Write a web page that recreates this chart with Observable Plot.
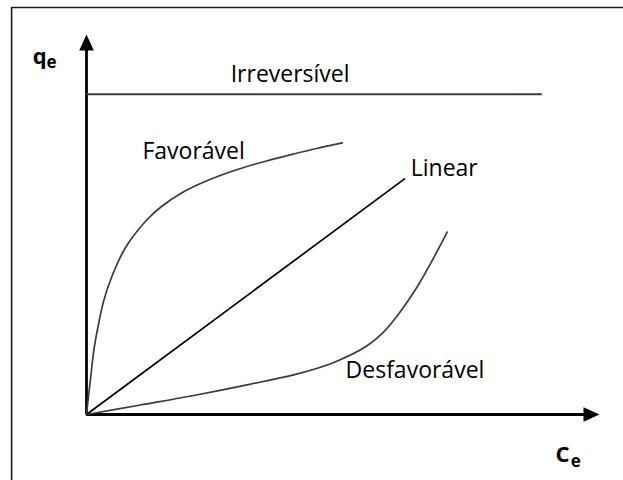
<!DOCTYPE html>
<html><head><meta charset="utf-8">
<script src="https://cdn.jsdelivr.net/npm/d3@7"></script>
<script src="https://cdn.jsdelivr.net/npm/@observablehq/plot@0.6"></script>
<style>html,body{margin:0;padding:0;background:#fff;overflow:hidden;}</style>
</head><body><div id="chart"></div>
<script>
// Isotherm categories
const categories = ["Irreversível", "Favorável", "Linear", "Desfavorável"];

// Series values (Ce, qe) in arbitrary units
const irrevX = [0, 88.6];
const irrevY = [84.3, 84.3];

const favX = [0, 0.45, 0.88, 1.42, 2.14, 3.37, 4.87, 7.27, 9.36, 11.83, 14.62, 18.52, 22.22, 26.32, 30.66, 35.09, 40.41, 44.83, 49.84];
const favY = [0, 5.53, 10.53, 16.84, 22.37, 30.0, 36.05, 43.16, 47.37, 51.32, 54.74, 58.29, 60.79, 63.03, 65.0, 66.71, 68.55, 70.0, 71.5];

const linX = [0, 62];
const linY = [0, 62];

const desX = [0, 10.5, 20.9, 32.0, 41.7, 48.2, 54.7, 58.0, 61.2, 64.5, 67.7, 70.3];
const desY = [0, 2.5, 5.0, 8.0, 10.9, 13.7, 18.1, 21.8, 27.1, 33.7, 41.3, 48.0];

// Label anchor positions for each category
const labelX = [28.1, 10.9, 63.2, 50.5];
const labelY = [89.4, 69.1, 64.6, 11.5];

// Axis titles
const axisMain = ["q", "C"];
const axisMainX = [-10.5, 91.4];
const axisMainY = [94.2, -10.6];
const axisSub = ["e", "e"];
const axisSubX = [-7.8, 94.4];
const axisSubY = [92.7, -12.3];

// Axis extents
const axisMax = 100;
const axisLineEnd = [97.1, 95.8];

const toPts = (xs, ys, name) => xs.map((x, i) => ({x, y: ys[i], name}));
const irrev = toPts(irrevX, irrevY, categories[0]);
const fav = toPts(favX, favY, categories[1]);
const lin = toPts(linX, linY, categories[2]);
const des = toPts(desX, desY, categories[3]);
const labels = categories.map((c, i) => ({text: c, x: labelX[i], y: labelY[i]}));
const mains = axisMain.map((t, i) => ({text: t, x: axisMainX[i], y: axisMainY[i]}));
const subs = axisSub.map((t, i) => ({text: t, x: axisSubX[i], y: axisSubY[i]}));

const arrowHead = {
  draw(ctx) {
    ctx.moveTo(0, 0);
    ctx.lineTo(-7.3, 16);
    ctx.lineTo(7.3, 16);
    ctx.closePath();
  }
};

const font = "'Open Sans', Lato, sans-serif";

const chart = Plot.plot({
  width: 623,
  height: 480,
  marginLeft: 86,
  marginRight: 24,
  marginTop: 34,
  marginBottom: 66,
  x: {domain: [0, 100], axis: null},
  y: {domain: [0, 100], axis: null},
  style: {background: "#fff", overflow: "hidden"},
  marks: [
    // outer frame (left and top edges)
    Plot.ruleX([-14.6], {y1: -40, y2: 107.1, stroke: "#1a1a1a", strokeWidth: 1.6}),
    Plot.ruleY([107.1], {x1: -14.6, x2: 120, stroke: "#1a1a1a", strokeWidth: 1.6}),
    // axes
    Plot.ruleY([0], {x1: 0, x2: axisLineEnd[0], stroke: "#000", strokeWidth: 2.8}),
    Plot.ruleX([0], {y1: 0, y2: axisLineEnd[1], stroke: "#000", strokeWidth: 2.8}),
    Plot.dot([{x: 0, y: axisMax}], {x: "x", y: "y", symbol: arrowHead, fill: "#000", stroke: "none"}),
    Plot.dot([{x: axisMax, y: 0}], {x: "x", y: "y", symbol: arrowHead, rotate: 90, fill: "#000", stroke: "none"}),
    // curves
    Plot.line(irrev, {x: "x", y: "y", stroke: "#3c3c3c", strokeWidth: 2}),
    Plot.line(fav, {x: "x", y: "y", stroke: "#3c3c3c", strokeWidth: 1.7, curve: "catmull-rom"}),
    Plot.line(lin, {x: "x", y: "y", stroke: "#000", strokeWidth: 1.7}),
    Plot.line(des, {x: "x", y: "y", stroke: "#3c3c3c", strokeWidth: 1.7, curve: "catmull-rom"}),
    // labels
    Plot.text(labels, {x: "x", y: "y", text: "text", textAnchor: "start", lineAnchor: "middle", fontSize: 23, fontFamily: font, fill: "#000"}),
    Plot.text(mains, {x: "x", y: "y", text: "text", textAnchor: "start", lineAnchor: "middle", fontSize: 22, fontWeight: "bold", fontFamily: font, fill: "#000"}),
    Plot.text(subs, {x: "x", y: "y", text: "text", textAnchor: "start", lineAnchor: "middle", fontSize: 17, fontWeight: "bold", fontFamily: font, fill: "#000"})
  ]
});
document.getElementById("chart").appendChild(chart);
</script>
</body></html>
